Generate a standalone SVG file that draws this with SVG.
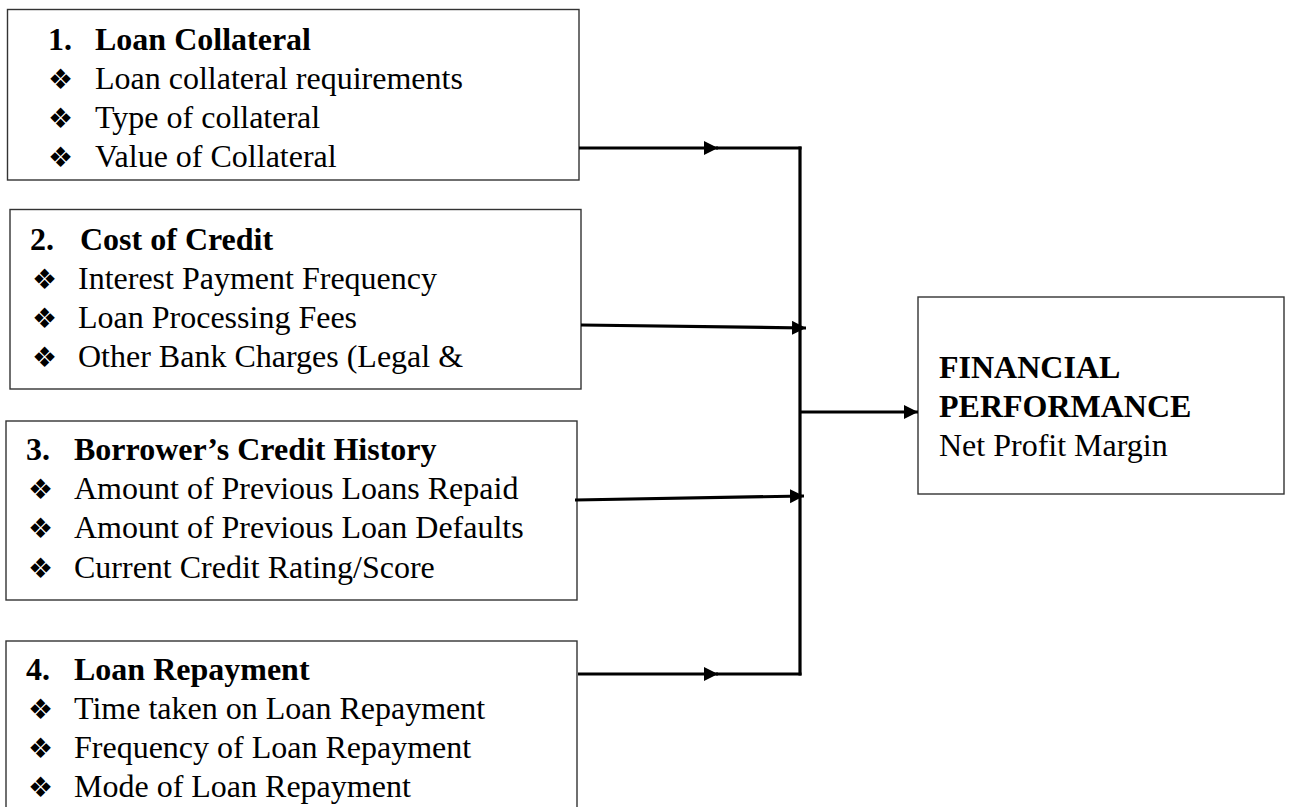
<svg xmlns="http://www.w3.org/2000/svg" width="1296" height="807" viewBox="0 0 1296 807">
<defs>
<style>
.box{fill:#fff;stroke:#333;stroke-width:1.4}
.t{font-family:"Liberation Serif","Times New Roman",serif;font-size:32px;fill:#000}
.b{font-weight:bold}
.bul{font-family:"DejaVu Sans",sans-serif;font-size:28px;fill:#000}
.c{stroke:#000;stroke-width:3.2;fill:none}
</style>
<marker id="ah" markerWidth="15" markerHeight="15" refX="14" refY="7" orient="auto" markerUnits="userSpaceOnUse"><path d="M0,0 L14,7 L0,14 z" fill="#000"/></marker>
</defs>
<rect width="1296" height="807" fill="#fff"/>
<g id="node1">
<rect class="box" x="7.5" y="9.5" width="571.5" height="170.5"/>
<text class="t b" x="48" y="50">1.</text><text class="t b" x="95" y="50">Loan Collateral</text>
<text class="bul" x="48" y="89">❖</text><text class="t" x="95" y="89">Loan collateral requirements</text>
<text class="bul" x="48" y="128">❖</text><text class="t" x="95" y="128">Type of collateral</text>
<text class="bul" x="48" y="167">❖</text><text class="t" x="95" y="167">Value of Collateral</text>
</g>
<g id="node2">
<rect class="box" x="10" y="209.5" width="571" height="179.5"/>
<text class="t b" x="30" y="250">2.</text><text class="t b" x="80" y="250">Cost of Credit</text>
<text class="bul" x="32" y="289">❖</text><text class="t" x="78" y="289">Interest Payment Frequency</text>
<text class="bul" x="32" y="328">❖</text><text class="t" x="78" y="328">Loan Processing Fees</text>
<text class="bul" x="32" y="367">❖</text><text class="t" x="78" y="367">Other Bank Charges (Legal &amp;</text>
</g>
<g id="node3">
<rect class="box" x="6" y="421" width="571" height="179"/>
<text class="t b" x="26" y="460">3.</text><text class="t b" x="74" y="460">Borrower’s Credit History</text>
<text class="bul" x="28" y="499">❖</text><text class="t" x="74" y="499">Amount of Previous Loans Repaid</text>
<text class="bul" x="28" y="538">❖</text><text class="t" x="74" y="538">Amount of Previous Loan Defaults</text>
<text class="bul" x="28" y="578">❖</text><text class="t" x="74" y="578">Current Credit Rating/Score</text>
</g>
<g id="node4">
<rect class="box" x="6" y="641" width="571" height="200"/>
<text class="t b" x="26" y="680">4.</text><text class="t b" x="74" y="680">Loan Repayment</text>
<text class="bul" x="28" y="719">❖</text><text class="t" x="74" y="719">Time taken on Loan Repayment</text>
<text class="bul" x="28" y="758">❖</text><text class="t" x="74" y="758">Frequency of Loan Repayment</text>
<text class="bul" x="28" y="797">❖</text><text class="t" x="74" y="797">Mode of Loan Repayment</text>
</g>
<g id="node5">
<rect class="box" x="918" y="297" width="366" height="197"/>
<text class="t b" x="939" y="378">FINANCIAL</text>
<text class="t b" x="939" y="417">PERFORMANCE</text>
<text class="t" x="939" y="456">Net Profit Margin</text>
</g>
<g id="connectors">
<line class="c" x1="579" y1="148" x2="718" y2="148" marker-end="url(#ah)"/>
<line class="c" x1="716" y1="148" x2="801.5" y2="148"/>
<line class="c" x1="800" y1="146.5" x2="800" y2="675.5"/>
<line class="c" x1="581" y1="325" x2="806" y2="328" marker-end="url(#ah)"/>
<line class="c" x1="575" y1="500" x2="804" y2="496" marker-end="url(#ah)"/>
<line class="c" x1="578" y1="674" x2="718" y2="674" marker-end="url(#ah)"/>
<line class="c" x1="716" y1="674" x2="801.5" y2="674"/>
<line class="c" x1="800" y1="412" x2="918" y2="412" marker-end="url(#ah)"/>
</g>
</svg>
